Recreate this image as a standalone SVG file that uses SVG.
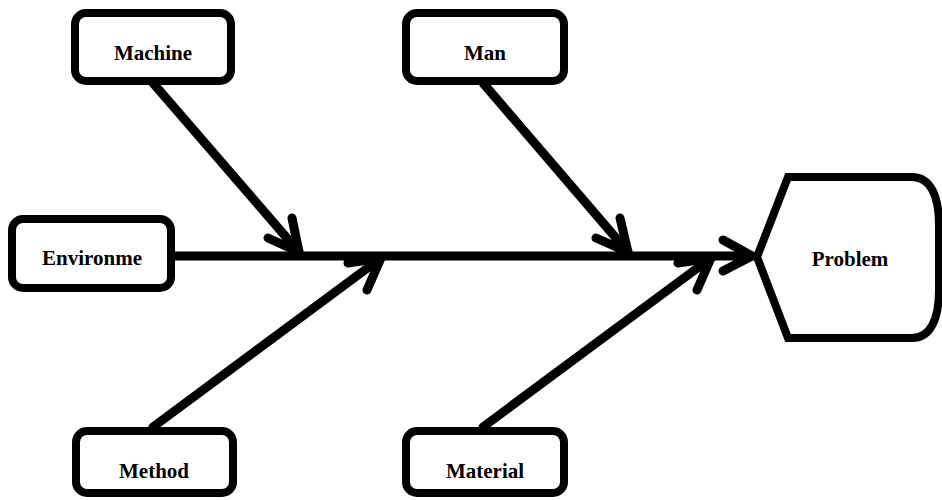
<svg xmlns="http://www.w3.org/2000/svg" width="942" height="500" viewBox="0 0 942 500">
<style>
.box{fill:#fff;stroke:#000;stroke-width:8}
.lbl{font-family:"Liberation Serif","Times New Roman",serif;font-weight:bold;font-size:21px;fill:#000;text-anchor:middle}
.ln{fill:none;stroke:#000;stroke-width:9;stroke-linecap:round;stroke-linejoin:round}
</style>
<rect width="942" height="500" fill="#fff"/>
<g id="connectors">
<path class="ln" d="M175 256 L752 256"/>
<path class="ln" d="M723 240 L752 256 L723 271"/>
<path class="ln" d="M153 83 L299 252"/>
<path class="ln" d="M292 218 L299 252 L268 238"/>
<path class="ln" d="M483 83 L628 252"/>
<path class="ln" d="M620 218 L628 252 L596 238"/>
<path class="ln" d="M153 427 L381 258"/>
<path class="ln" d="M348 263 L381 258 L367 290"/>
<path class="ln" d="M483 427 L711 258"/>
<path class="ln" d="M678 263 L711 258 L697 290"/>
</g>
<g id="machine"><rect class="box" x="75" y="13" width="156" height="68" rx="11"/><text class="lbl" x="153" y="60">Machine</text></g>
<g id="man"><rect class="box" x="406" y="13" width="158" height="68" rx="11"/><text class="lbl" x="485" y="60">Man</text></g>
<g id="environment"><rect class="box" x="12" y="219" width="159" height="69" rx="11"/><text class="lbl" x="92" y="265">Environme</text></g>
<g id="method"><rect class="box" x="76" y="431" width="157" height="62" rx="11"/><text class="lbl" x="154" y="478">Method</text></g>
<g id="material"><rect class="box" x="406" y="431" width="158" height="62" rx="11"/><text class="lbl" x="485" y="478">Material</text></g>
<g id="problem"><path class="box" d="M757 257 L788 177 L912 177 C930 177 939 195 939 225 L939 290 C939 320 930 338 912 338 L788 338 Z"/><text class="lbl" x="850" y="266">Problem</text></g>
</svg>
